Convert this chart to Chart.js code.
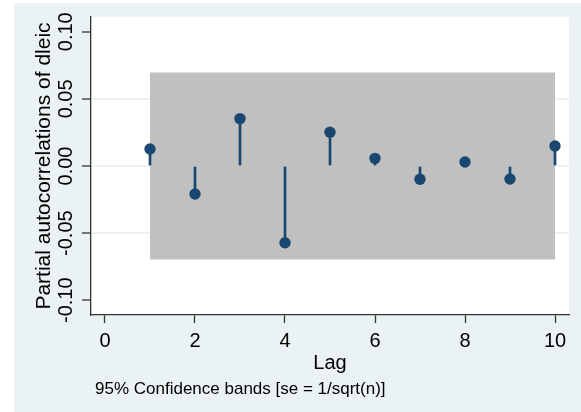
<!DOCTYPE html>
<html>
<head>
<meta charset="utf-8">
<script src="https://cdn.jsdelivr.net/npm/chart.js@4.4.1/dist/chart.umd.min.js"></script>
<style>
  html, body { margin: 0; padding: 0; background: #ffffff; }
  canvas { display: block; }
</style>
</head>
<body>
<canvas id="pacfChart" width="581" height="412"></canvas>
<script>
// PACF of dleic, lags 1..10
const lags = [1, 2, 3, 4, 5, 6, 7, 8, 9, 10];
const pacfValues = [0.0127, -0.0209, 0.0353, -0.0572, 0.0251, 0.0057, -0.0099, 0.0030, -0.0097, 0.0149];
const bandUpper = [0.0696, 0.0696, 0.0696, 0.0696, 0.0696, 0.0696, 0.0696, 0.0696, 0.0696, 0.0696];
const bandLower = [-0.0696, -0.0696, -0.0696, -0.0696, -0.0696, -0.0696, -0.0696, -0.0696, -0.0696, -0.0696];
const xTicks = [0, 2, 4, 6, 8, 10];
const yTicks = [-0.10, -0.05, 0.00, 0.05, 0.10];

const FONT = '"Liberation Sans", Arial, sans-serif';
const NAVY = '#1a476f';
const STATA_BG = '#eaf2f3';

// Outer Stata-style panel, rotated y tick labels, y title and caption
const stataDecor = {
    id: 'stataDecor',
    beforeDraw(chart) {
        const { ctx, chartArea } = chart;
        ctx.save();
        ctx.fillStyle = STATA_BG;
        ctx.fillRect(14, 3, chart.width - 14, chart.height - 3);
        ctx.fillStyle = '#ffffff';
        ctx.fillRect(chartArea.left, chartArea.top, chartArea.right - chartArea.left, chartArea.bottom - chartArea.top);
        ctx.restore();
    },
    afterDraw(chart) {
        const { ctx, chartArea } = chart;
        const yScale = chart.scales.y;
        ctx.save();
        ctx.fillStyle = '#000000';
        ctx.textAlign = 'center';
        ctx.textBaseline = 'middle';

        // y tick labels, turned 90 degrees
        ctx.font = '20px ' + FONT;
        yTicks.forEach(v => {
            const py = yScale.getPixelForValue(v);
            ctx.save();
            ctx.translate(66, py);
            ctx.rotate(-Math.PI / 2);
            ctx.fillText(v.toFixed(2), 0, 0);
            ctx.restore();
        });

        // y title
        ctx.font = '21px ' + FONT;
        ctx.save();
        ctx.translate(44, (chartArea.top + chartArea.bottom) / 2);
        ctx.rotate(-Math.PI / 2);
        ctx.fillText('Partial autocorrelations of dleic', 0, 0);
        ctx.restore();

        // note under the graph
        ctx.font = '17px ' + FONT;
        ctx.textAlign = 'left';
        ctx.fillText('95% Confidence bands [se = 1/sqrt(n)]', 95, 389);
        ctx.restore();
    }
};

const ctx = document.getElementById('pacfChart').getContext('2d');
new Chart(ctx, {
    data: {
        datasets: [
            {
                type: 'scatter',
                label: 'PACF',
                data: lags.map((x, i) => ({ x, y: pacfValues[i] })),
                backgroundColor: NAVY,
                borderColor: NAVY,
                pointRadius: 5.7,
                pointHoverRadius: 5.7,
                borderWidth: 0,
                order: 0
            },
            {
                type: 'bar',
                label: 'spikes',
                data: lags.map((x, i) => ({ x, y: [0, pacfValues[i]] })),
                backgroundColor: NAVY,
                barThickness: 2,
                borderWidth: 0,
                order: 1
            },
            {
                type: 'line',
                label: 'upper',
                data: lags.map((x, i) => ({ x, y: bandUpper[i] })),
                borderWidth: 0,
                pointRadius: 0,
                fill: false,
                order: 3
            },
            {
                type: 'line',
                label: 'lower',
                data: lags.map((x, i) => ({ x, y: bandLower[i] })),
                borderWidth: 0,
                pointRadius: 0,
                backgroundColor: '#c0c0c0',
                fill: '-1',
                order: 2
            }
        ]
    },
    options: {
        responsive: false,
        animation: false,
        events: [],
        layout: { padding: { top: 17, right: 12, left: 0, bottom: 0 } },
        plugins: {
            legend: { display: false },
            tooltip: { enabled: false },
            filler: { propagate: false }
        },
        scales: {
            x: {
                type: 'linear',
                min: -0.311,
                max: 10.311,
                offset: false,
                afterBuildTicks: scale => { scale.ticks = xTicks.map(v => ({ value: v })); },
                afterFit: scale => { scale.height = 97; },
                grid: {
                    offset: false,
                    drawOnChartArea: false,
                    drawTicks: true,
                    tickLength: 8,
                    tickColor: '#333333',
                    tickWidth: 1.3
                },
                border: { display: true, color: '#333333', width: 1.3 },
                ticks: {
                    color: '#000000',
                    font: { family: FONT, size: 20 },
                    padding: 6,
                    maxRotation: 0,
                    autoSkip: false
                },
                title: {
                    display: true,
                    text: 'Lag',
                    color: '#000000',
                    font: { family: FONT, size: 20 },
                    padding: { top: 0, bottom: 37 }
                }
            },
            y: {
                type: 'linear',
                min: -0.111,
                max: 0.111,
                afterBuildTicks: scale => { scale.ticks = yTicks.map(v => ({ value: v })); },
                afterFit: scale => { scale.width = 91; },
                grid: {
                    color: c => (Math.abs(c.tick.value) > 0.09 ? 'rgba(0,0,0,0)' : STATA_BG),
                    lineWidth: 2,
                    drawTicks: true,
                    tickLength: 9,
                    tickColor: '#333333',
                    tickWidth: 1.3
                },
                border: { display: true, color: '#333333', width: 1.3 },
                ticks: { display: false }
            }
        }
    },
    plugins: [stataDecor]
});
</script>
</body>
</html>
